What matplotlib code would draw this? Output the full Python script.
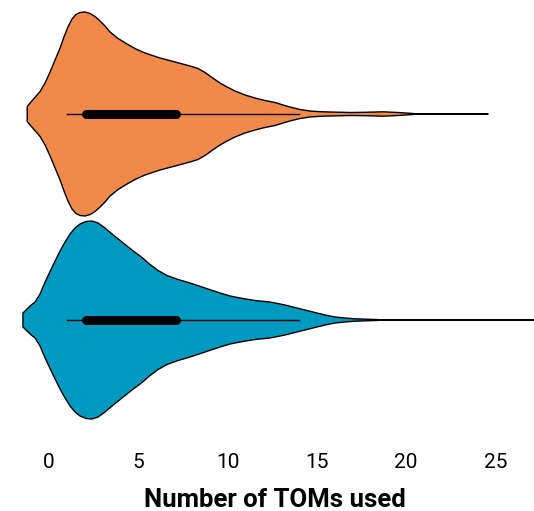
import numpy as np
import matplotlib
matplotlib.use("Agg")
import matplotlib.pyplot as plt

plt.rcParams["font.family"] = ["Roboto", "DejaVu Sans"]

# ------------------------------------------------------------
# Violin outlines
# (TOM count -> half width, in pixels of the original picture)
# ------------------------------------------------------------
orange_toms = [-1.22, -1.06, -0.84, -0.50, -0.22, 0.06, 0.34, 0.62, 0.84, 1.06,
               1.29, 1.51, 1.74, 2.02, 2.30, 2.58, 2.86, 3.14, 3.42, 3.87,
               4.37, 4.87, 5.38, 6.22, 7.06, 7.90, 8.35, 8.74, 9.13, 9.58,
               10.03, 10.42, 10.98, 11.54, 12.10, 12.66, 13.11, 13.50, 14.06, 14.62,
               15.18, 15.74, 16.86, 17.70, 18.71, 19.55, 20.22, 20.50, 24.59]
orange_width = [7.5, 11, 15.5, 22.5, 31, 42, 54, 66, 77, 87,
                95, 99.5, 101.5, 102, 100.5, 97.5, 93, 88, 82, 75.5,
                70, 65, 61, 56, 52, 48, 45.5, 41.5, 36.5, 31,
                26.5, 23, 19, 16, 13.5, 11.5, 9, 7, 4.5, 3,
                2.3, 2, 1.5, 1.7, 2.2, 1.5, 0.7, 0.3, 0.3]

blue_toms = [-1.46, -1.29, -1.06, -0.78, -0.50, -0.22, 0.06, 0.34, 0.62, 0.90,
             1.18, 1.46, 1.74, 2.07, 2.41, 2.75, 3.14, 3.53, 4.09, 4.65,
             5.21, 5.66, 6.11, 6.61, 7.23, 7.90, 8.74, 9.58, 10.14, 10.70,
             11.54, 12.38, 13.22, 13.78, 14.34, 14.90, 15.46, 16.02, 16.58, 17.14,
             17.98, 18.54, 28.0]
blue_width = [7, 10, 14, 18, 26, 38, 48.5, 59, 69, 78,
              86, 92, 96, 98.5, 99, 97, 92, 86, 78, 70,
              62.5, 55.5, 49.5, 44.5, 40.5, 37, 32, 27, 24, 22,
              19.5, 18, 15, 12.5, 10, 7.5, 5, 3, 2, 1.2,
              0.7, 0.3, 0.3]

# inner box: whiskers and quartiles
whisker_lo = [1.0, 1.0]
q1 = [2.1, 2.1]
q3 = [7.1, 7.1]
whisker_hi = [14.0, 14.0]

xticks = [0, 5, 10, 15, 20, 25]
xlabel = "Number of TOMs used"

colors = ["#F1894A", "#009AC0"]

# ------------------------------------------------------------
# Figure
# ------------------------------------------------------------
W, H = 534, 511
fig = plt.figure(figsize=(W / 100, H / 100), dpi=100)
ax_top, ax_bot, ax_left = 5, 440, 15
ax = fig.add_axes([ax_left / W, 1 - ax_bot / H, 1 - ax_left / W, (ax_bot - ax_top) / H])

px_per_tom = 17.85
x0 = 49
ax.set_xlim((ax_left - x0) / px_per_tom, (W - x0) / px_per_tom)

gap = 206.0  # px between violin centres
c0 = 114
ax.set_ylim(1 + (ax_bot - (c0 + gap)) / gap, -(c0 - ax_top) / gap)

shapes = [(orange_toms, orange_width), (blue_toms, blue_width)]
for i, (xs, ws) in enumerate(shapes):
    xs = np.asarray(xs)
    ws = np.asarray(ws) / gap
    px = np.concatenate([xs, xs[::-1]])
    py = np.concatenate([i - ws, (i + ws)[::-1]])
    ax.fill(px, py, facecolor=colors[i], edgecolor="black", linewidth=1.0,
            joinstyle="round", zorder=2)

    ax.plot([whisker_lo[i], whisker_hi[i]], [i, i], color="black", lw=1.0, zorder=3)
    ax.plot([q1[i], q3[i]], [i, i], color="black", lw=6.5,
            solid_capstyle="round", zorder=4)

ax.set_xticks(xticks)
ax.set_yticks([])
ax.tick_params(axis="x", length=0, pad=9, labelsize=15)
ax.set_xlabel(xlabel, fontsize=18.5, fontweight="bold", labelpad=12)
for s in ax.spines.values():
    s.set_visible(False)

fig.savefig("out.png", dpi=100)
